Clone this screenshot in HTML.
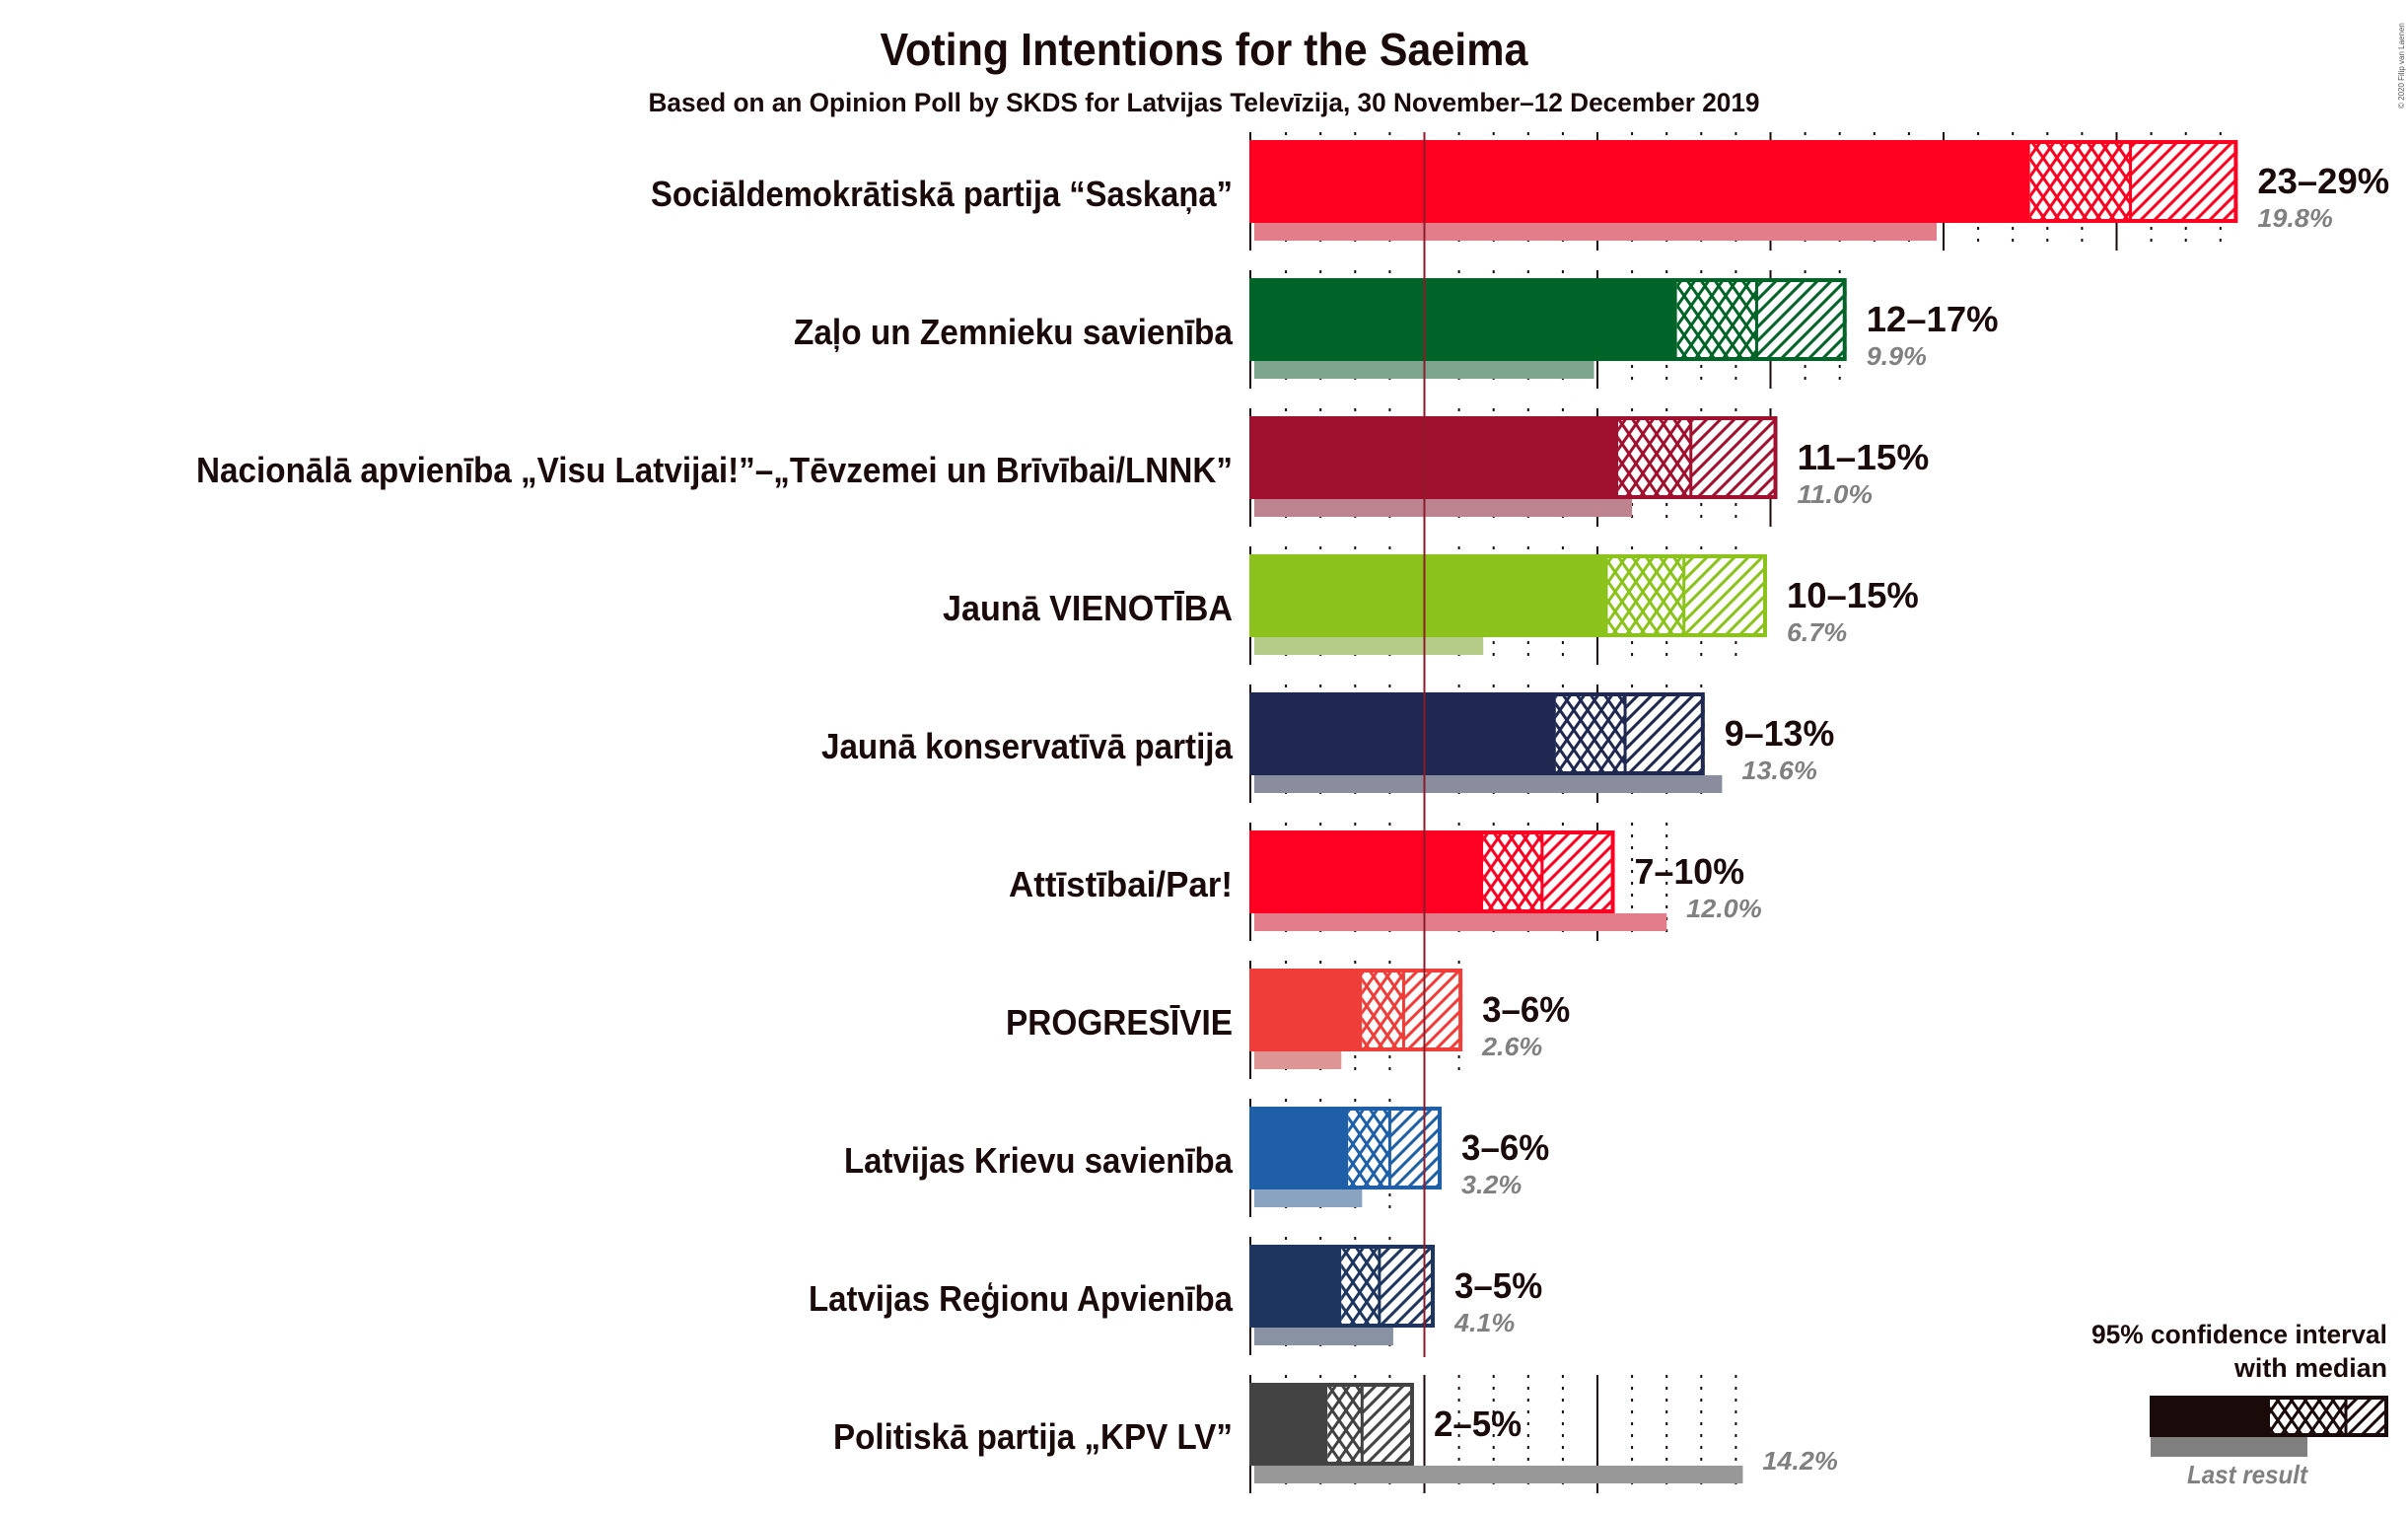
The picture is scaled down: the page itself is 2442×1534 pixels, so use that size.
<!DOCTYPE html>
<html><head><meta charset="utf-8"><style>
html,body{margin:0;padding:0;background:#fff}
svg{display:block}
text{font-family:"Liberation Sans",sans-serif}
</style></head><body>
<svg id="chart" width="2442" height="1534" viewBox="0 0 2442 1534" xmlns="http://www.w3.org/2000/svg">
<defs id="defs"></defs>
<text x="1221" y="66" text-anchor="middle" font-size="46" font-weight="bold" fill="#1a0a0a" textLength="657" lengthAdjust="spacingAndGlyphs">Voting Intentions for the Saeima</text>
<text x="1221" y="113" text-anchor="middle" font-size="27" font-weight="bold" fill="#1a0a0a" textLength="1127" lengthAdjust="spacingAndGlyphs">Based on an Opinion Poll by SKDS for Latvijas Televīzija, 30 November–12 December 2019</text>
<text transform="translate(2438,110) rotate(-90)" font-size="8" fill="#555">© 2020 Filip van Laenen</text>
<g id="grid"></g>
<g id="bars"></g>
<g id="labels"></g>
<g>
<text x="2421" y="1362" text-anchor="end" font-size="27" font-weight="bold" fill="#1a0a0a" textLength="300" lengthAdjust="spacingAndGlyphs">95% confidence interval</text>
<text x="2421" y="1396" text-anchor="end" font-size="27" font-weight="bold" fill="#1a0a0a" textLength="155" lengthAdjust="spacingAndGlyphs">with median</text>
<rect x="2181" y="1457" width="159" height="20" fill="#808080"/>
<rect x="2180" y="1415" width="120" height="42" fill="#1a0a0a"/>
<rect x="2300" y="1418" width="79" height="36" fill="url(#cross-legend)"/>
<rect x="2379" y="1418" width="40" height="36" fill="url(#diag-legend)"/>
<rect x="2300" y="1417" width="120" height="38" fill="none" stroke="#1a0a0a" stroke-width="4"/>
<line x1="2379" y1="1417" x2="2379" y2="1455" stroke="#1a0a0a" stroke-width="3"/>
<text x="2279" y="1504" text-anchor="middle" font-size="26" font-style="italic" font-weight="bold" fill="#808080" textLength="122" lengthAdjust="spacingAndGlyphs">Last result</text>
</g>
</svg>
<script>
const parties = ["Sociāldemokrātiskā partija “Saskaņa”","Zaļo un Zemnieku savienība","Nacionālā apvienība „Visu Latvijai!”–„Tēvzemei un Brīvībai/LNNK”","Jaunā VIENOTĪBA","Jaunā konservatīvā partija","Attīstībai/Par!","PROGRESĪVIE","Latvijas Krievu savienība","Latvijas Reģionu Apvienība","Politiskā partija „KPV LV”"];
const ciLow = [22.5,12.3,10.6,10.3,8.8,6.7,3.2,2.8,2.6,2.2];
const median = [25.4,14.6,12.7,12.5,10.8,8.4,4.4,4.0,3.7,3.2];
const ciHigh = [28.5,17.2,15.2,14.9,13.1,10.5,6.1,5.5,5.3,4.7];
const lastResult = [19.8,9.9,11.0,6.7,13.6,12.0,2.6,3.2,4.1,14.2];
const rangeLabels = ["23–29%","12–17%","11–15%","10–15%","9–13%","7–10%","3–6%","3–6%","3–5%","2–5%"];
const lastLabels = ["19.8%","9.9%","11.0%","6.7%","13.6%","12.0%","2.6%","3.2%","4.1%","14.2%"];
const colors = ["#ff0020","#006428","#a0112f","#8bc31c","#1f2850","#ff0022","#ef3e3a","#1e5fa8","#1e3560","#434343"];
const labelStart = [660,805,199,956,833,1023,1020,856,820,845];
const threshold = 5;

const NS="http://www.w3.org/2000/svg";
const X0=1269, PX=35.1, TOP0=142, STEP=140, BH=84, LH=18;
const xs=v=>X0+v*PX;
const yRow=i=>TOP0+i*STEP;
function mk(tag,attrs,parent){const e=document.createElementNS(NS,tag);for(const k in attrs)e.setAttribute(k,attrs[k]);parent.appendChild(e);return e;}
const defs=document.getElementById('defs'),grid=document.getElementById('grid'),bars=document.getElementById('bars'),labels=document.getElementById('labels');
function patterns(id,c){
  const p1=mk('pattern',{id:'cross-'+id,width:14,height:20,patternUnits:'userSpaceOnUse'},defs);
  mk('rect',{width:14,height:20,fill:'#fff'},p1);
  mk('path',{d:'M0,0 L14,20 M14,0 L0,20 M-7,10 L0,20 M7,-10 L21,10 M14,0 L21,10',stroke:c,'stroke-width':3,fill:'none'},p1);
  const p2=mk('pattern',{id:'diag-'+id,width:14,height:14,patternUnits:'userSpaceOnUse'},defs);
  mk('rect',{width:14,height:14,fill:'#fff'},p2);
  mk('path',{d:'M-3,17 L17,-3 M-10,10 L10,-10 M4,24 L24,4',stroke:c,'stroke-width':3,fill:'none'},p2);
}
patterns('legend','#1a0a0a');
parties.forEach((p,i)=>{
  const c=colors[i]; patterns(i,c);
  const top=yRow(i);
  const mx=Math.floor(Math.max(ciHigh[i],lastResult[i]));
  for(let t=1;t<=mx;t++){
    const major=t%5===0;
    const gl=mk('line',{x1:xs(t),x2:xs(t),y1:top-8,y2:top+BH+LH+(major?10:6),stroke:'#1a0a0a','stroke-width':2,'stroke-dasharray':major?'none':'3,9'},grid);
    
    
  }
  const ax=mk('line',{x1:X0-1,x2:X0-1,y1:top-8,y2:top+BH+LH+10,stroke:'#1a0a0a','stroke-width':2},grid);
  
  
  const g=mk('g',{},bars);
  
  
  const lrw=xs(lastResult[i])-X0-3;
  mk('rect',{x:X0+3,y:top+BH,width:lrw,height:LH,fill:'#d0d0d0'},g);
  const lr=mk('rect',{x:X0+3,y:top+BH,width:lrw,height:LH,fill:c,'fill-opacity':0.4},g);
  
  
  const sb=mk('rect',{x:X0,y:top,width:xs(ciLow[i])-X0,height:BH,fill:c},g);
  
  
  const cr=mk('rect',{x:xs(ciLow[i]),y:top+4,width:xs(median[i])-xs(ciLow[i]),height:BH-8,fill:'url(#cross-'+i+')'},g);
  
  
  const dg=mk('rect',{x:xs(median[i]),y:top+4,width:xs(ciHigh[i])-xs(median[i]),height:BH-8,fill:'url(#diag-'+i+')'},g);
  
  
  const ol=mk('rect',{x:X0,y:top+2,width:xs(ciHigh[i])-X0-2,height:BH-4,fill:'none',stroke:c,'stroke-width':4},g);
  
  
  mk('line',{x1:xs(median[i]),x2:xs(median[i]),y1:top,y2:top+BH,stroke:c,'stroke-width':3},g);
  const pl=mk('text',{x:1250,y:top+67,'text-anchor':'end','font-size':36,'font-weight':'bold',fill:'#1a0a0a',textLength:1250-labelStart[i],lengthAdjust:'spacingAndGlyphs'},labels);
  pl.textContent=p;
  
  
  const vx=xs(ciHigh[i])+20;
  const rl=mk('text',{x:vx,y:top+54,'font-size':36,'font-weight':'bold',fill:'#1a0a0a',textLength:rangeLabels[i].length*22.3,lengthAdjust:'spacingAndGlyphs'},labels);
  rl.textContent=rangeLabels[i];
  
  
  const lx=Math.max(vx,xs(lastResult[i])+20);
  const ll=mk('text',{x:lx,y:top+88,'font-size':26,'font-style':'italic','font-weight':'bold',fill:'#808080',textLength:lastLabels[i].length*15.3,lengthAdjust:'spacingAndGlyphs'},labels);
  ll.textContent=lastLabels[i];
  
  
});
const th=mk('line',{x1:xs(threshold),x2:xs(threshold),y1:TOP0-8,y2:yRow(8)+BH+LH+12,stroke:'#8b1a2a','stroke-width':2},bars);


</script>
</body></html>
